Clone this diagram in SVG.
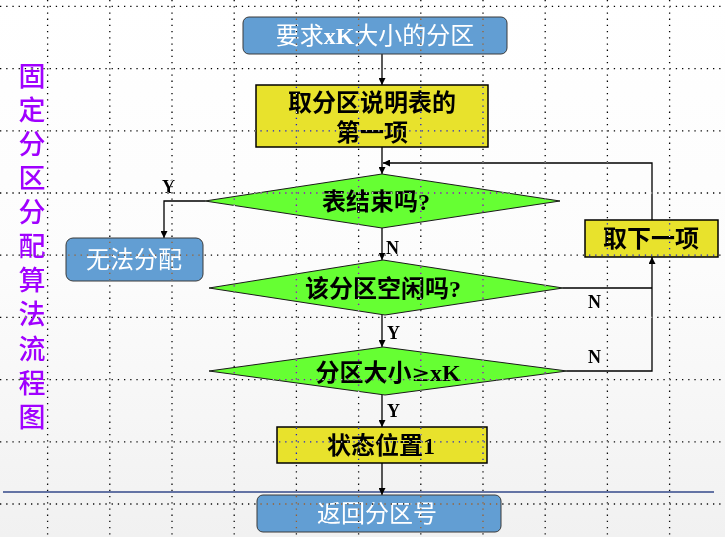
<svg xmlns="http://www.w3.org/2000/svg" width="725" height="537" viewBox="0 0 725 537">
<defs>
<linearGradient id="bg" x1="0" y1="0" x2="0" y2="1">
<stop offset="0" stop-color="#ffffff"/>
<stop offset="0.5" stop-color="#fcfcfc"/>
<stop offset="1" stop-color="#f1f1f1"/>
</linearGradient>
<marker id="arr" viewBox="0 0 10 10" refX="10" refY="5" markerWidth="7" markerHeight="7" markerUnits="userSpaceOnUse" orient="auto">
<path d="M0,0 L10,5 L0,10 z" fill="#000"/>
</marker>
<style>
.blue{fill:#629ed3;stroke:#3a3a3a;stroke-width:1}
.yellow{fill:#e8e22c;stroke:#000;stroke-width:1.5}
.green{fill:#66ff33;stroke:#1a1a1a;stroke-width:1}
.wt{font-family:"Liberation Serif","Noto Sans CJK SC",serif;font-size:24px;fill:#fff;text-anchor:middle}
.bt{font-family:"Liberation Serif","Noto Sans CJK SC",serif;font-size:24px;fill:#000;text-anchor:middle;font-weight:bold}
.lat{font-family:"Liberation Serif",serif;font-weight:bold}
.ge{font-family:"DejaVu Sans",sans-serif;font-weight:normal;font-size:22px}
.lbl{font-family:"Liberation Serif",serif;font-size:18px;font-weight:bold;fill:#000}
.conn{fill:none;stroke:#000;stroke-width:1.3}
.grid{stroke:#fff;stroke-width:1.3;stroke-dasharray:1.3 4.9;mix-blend-mode:difference}
.title{font-family:"Noto Sans CJK SC",sans-serif;font-size:27px;fill:#a000ff;font-weight:500;writing-mode:vertical-rl;letter-spacing:7.1px}
</style>
</defs>
<rect x="0" y="0" width="725" height="537" fill="url(#bg)"/>
<line x1="3" y1="492" x2="714" y2="492" stroke="#33498a" stroke-width="1.5"/>

<g id="title">
<text class="title" x="32" y="62">固定分区分配算法流程图</text>
</g>

<g id="connectors">
<line class="conn" x1="382" y1="54" x2="382" y2="85" marker-end="url(#arr)"/>
<line class="conn" x1="382" y1="147" x2="382" y2="174" marker-end="url(#arr)"/>
<polyline class="conn" points="652,220 652,163 383,163" marker-end="url(#arr)"/>
<polyline class="conn" points="205,201 164,201 164,238" marker-end="url(#arr)"/>
<line class="conn" x1="382" y1="228" x2="382" y2="260" marker-end="url(#arr)"/>
<line class="conn" x1="382" y1="315" x2="382" y2="347" marker-end="url(#arr)"/>
<polyline class="conn" points="563,288 652,288"/>
<polyline class="conn" points="567,371 652,371 652,257" marker-end="url(#arr)"/>
<line class="conn" x1="382" y1="395" x2="382" y2="427" marker-end="url(#arr)"/>
<line class="conn" x1="382" y1="463" x2="382" y2="495" marker-end="url(#arr)"/>
<text class="lbl" x="162" y="193">Y</text>
<text class="lbl" x="386" y="254">N</text>
<text class="lbl" x="387" y="339">Y</text>
<text class="lbl" x="387" y="417">Y</text>
<text class="lbl" x="588" y="308">N</text>
<text class="lbl" x="588" y="363">N</text>
</g>

<g id="start">
<rect class="blue" x="243" y="17" width="264" height="37" rx="6"/>
<text class="wt" x="375" y="44">要求<tspan class="lat">xK</tspan>大小的分区</text>
</g>
<g id="first">
<rect class="yellow" x="256" y="85" width="232" height="62"/>
<text class="bt" x="372" y="111">取分区说明表的</text>
<text class="bt" x="372" y="141">第一项</text>
</g>
<g id="tableEnd">
<polygon class="green" points="382,174 560,201 382,228 205,201"/>
<text class="bt" x="376" y="210">表结束吗?</text>
</g>
<g id="noAlloc">
<rect class="blue" x="66" y="238" width="137" height="43" rx="7"/>
<text class="wt" x="134" y="268">无法分配</text>
</g>
<g id="isFree">
<polygon class="green" points="383,260 563,288 385,315 209,288"/>
<text class="bt" x="383" y="297">该分区空闲吗?</text>
</g>
<g id="sizeCheck">
<polygon class="green" points="383,347 567,371 385,395 209,371"/>
<text class="bt" x="388" y="381">分区大小<tspan class="ge">≥</tspan>xK</text>
</g>
<g id="next">
<rect class="yellow" x="585" y="220" width="133" height="37"/>
<text class="bt" x="651" y="247">取下一项</text>
</g>
<g id="status">
<rect class="yellow" x="277" y="427" width="210" height="36"/>
<text class="bt" x="381" y="454">状态位置1</text>
</g>
<g id="return">
<rect class="blue" x="257" y="495" width="244" height="37" rx="6"/>
<text class="wt" x="377" y="522">返回分区号</text>
</g>

<g id="grid">
<line class="grid" x1="0" y1="6.4" x2="725" y2="6.4"/>
<line class="grid" x1="0" y1="68.6" x2="725" y2="68.6"/>
<line class="grid" x1="0" y1="130.8" x2="725" y2="130.8"/>
<line class="grid" x1="0" y1="193" x2="725" y2="193"/>
<line class="grid" x1="0" y1="255.2" x2="725" y2="255.2"/>
<line class="grid" x1="0" y1="317.4" x2="725" y2="317.4"/>
<line class="grid" x1="0" y1="379.6" x2="725" y2="379.6"/>
<line class="grid" x1="0" y1="441.8" x2="725" y2="441.8"/>
<line class="grid" x1="0" y1="504" x2="725" y2="504"/>
<line class="grid" x1="47.6" y1="0" x2="47.6" y2="537"/>
<line class="grid" x1="109.8" y1="0" x2="109.8" y2="537"/>
<line class="grid" x1="172" y1="0" x2="172" y2="537"/>
<line class="grid" x1="234.2" y1="0" x2="234.2" y2="537"/>
<line class="grid" x1="296.4" y1="0" x2="296.4" y2="537"/>
<line class="grid" x1="358.6" y1="0" x2="358.6" y2="537"/>
<line class="grid" x1="420.8" y1="0" x2="420.8" y2="537"/>
<line class="grid" x1="483" y1="0" x2="483" y2="537"/>
<line class="grid" x1="545.2" y1="0" x2="545.2" y2="537"/>
<line class="grid" x1="607.4" y1="0" x2="607.4" y2="537"/>
<line class="grid" x1="669.6" y1="0" x2="669.6" y2="537"/>
</g>
</svg>
